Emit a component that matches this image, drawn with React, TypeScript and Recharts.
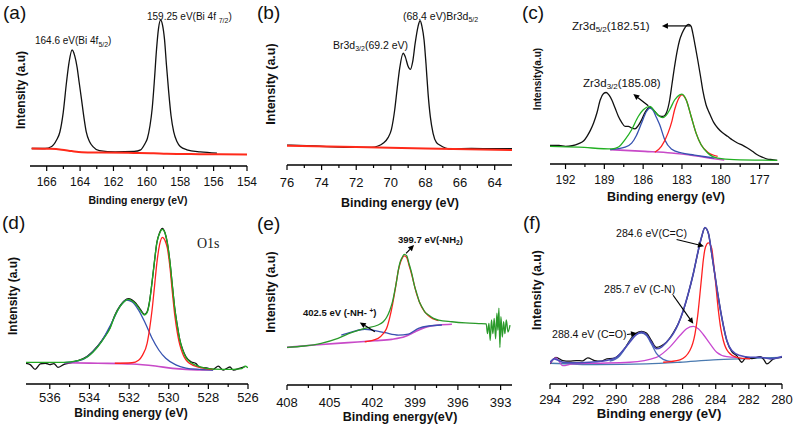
import React from "react";
import { LineChart, Line, XAxis, YAxis, ReferenceLine } from "recharts";

type Pt = [number, number];

// ---------- (a) Bi 4f ----------
const aMajor = [154, 156, 158, 160, 162, 164, 166];
const aMinor = [155, 157, 159, 161, 163, 165];
const aBlack: Pt[] = [
  [166.9, 10.8], [166.1, 10.8], [165.7, 12], [165.41, 16], [165.21, 21], [165.01, 33], [164.81, 52],
  [164.66, 64], [164.48, 71.6], [164.32, 68], [164.18, 61], [164.06, 52], [163.92, 41.6], [163.77, 30],
  [163.63, 21], [163.43, 15], [163.23, 12], [162.84, 9.5], [161.9, 8.7], [160.76, 9], [160.37, 10],
  [160.13, 13.5], [159.97, 17], [159.81, 25], [159.68, 35.5], [159.54, 54], [159.42, 72], [159.3, 85],
  [159.18, 90], [159.06, 87], [158.94, 78], [158.83, 63], [158.69, 45.6], [158.55, 31], [158.39, 21],
  [158.19, 15], [158.0, 12], [157.6, 10], [156.8, 8.7], [155.8, 8],
];
const aRed: Pt[] = [
  [166.9, 10.8], [165.8, 10.6], [165.1, 10.1], [164.5, 9.2], [163.9, 8.5], [162.7, 8.3], [160.8, 8.1],
  [159.6, 7.9], [158.8, 7.5], [156.8, 7.3], [154, 7.1],
];

// ---------- (b) Br 3d ----------
const bMajor = [64, 66, 68, 70, 72, 74, 76];
const bMinor = [65, 67, 69, 71, 73, 75];
const bBlack: Pt[] = [
  [76, 12.4], [74.4, 11.8], [72.47, 11], [71.13, 11], [70.74, 11.8], [70.45, 13.5], [70.16, 17],
  [69.97, 22], [69.78, 34], [69.64, 47], [69.49, 60], [69.29, 69.4], [69.16, 67], [69.01, 61.5],
  [68.87, 59.4], [68.74, 64], [68.59, 76], [68.43, 86], [68.31, 89.6], [68.2, 86], [68.08, 77.6],
  [67.97, 63], [67.85, 44.5], [67.72, 30], [67.56, 19.7], [67.37, 14], [67.18, 12.4], [66.5, 9.9],
  [65.35, 10.3], [64, 10.1], [63, 10.1],
];
const bRed: Pt[] = [[76, 12], [72, 11.2], [68, 10.2], [63, 9.3]];

// ---------- (c) Zr 3d ----------
const cMajor = [177, 180, 183, 186, 189, 192];
const cMinor = [178.5, 181.5, 184.5, 187.5, 190.5];
const cBlack: Pt[] = [
  [193.23, 11.6], [192.51, 11.6], [192.0, 11], [191.49, 11.4], [190.98, 12.7], [190.59, 14.5],
  [190.34, 17.3], [190.08, 21], [189.83, 25.6], [189.57, 32], [189.32, 40], [189.06, 44], [188.86, 44.7],
  [188.63, 43], [188.42, 40], [188.17, 35], [187.91, 29.7], [187.66, 26], [187.4, 23.5], [187.14, 23.5],
  [186.89, 22.5], [186.63, 22], [186.38, 24], [186.12, 27.6], [185.87, 32], [185.66, 34.5], [185.48, 35.5],
  [185.3, 34.5], [185.1, 32.8], [184.84, 30.5], [184.59, 29.7], [184.38, 30], [184.21, 31.8], [183.95, 40],
  [183.77, 50], [183.57, 61], [183.36, 71], [183.18, 77.5], [183.0, 81.5], [182.8, 84.8], [182.49, 87.3],
  [182.29, 86], [182.16, 81.7], [181.98, 74], [181.78, 65], [181.57, 55], [181.39, 46], [181.14, 37],
  [180.88, 31.8], [180.55, 26], [180.24, 22.5], [179.86, 19.5], [179.48, 17.3], [179.09, 15], [178.71, 13.1],
  [178.33, 11.8], [177.94, 10], [177.56, 8], [177.18, 5.8], [176.79, 4.3], [176.41, 3.1], [176.03, 2.7],
  [175.64, 2.3],
];
const cGreen: Pt[] = [
  [193.23, 11], [190.98, 10.5], [188.42, 9.4], [187.91, 10.6], [187.4, 15.2], [186.89, 21.4], [186.38, 29.7],
  [185.99, 33.9], [185.48, 36], [185.1, 32.8], [184.72, 29.7], [184.46, 29], [184.21, 30.5], [183.95, 33.9],
  [183.57, 40], [183.18, 43.2], [183.0, 43.7], [182.67, 40], [182.29, 29.7], [181.91, 19.3], [181.52, 12],
  [181.01, 6.9], [180.24, 3.7], [178.97, 2.7], [175.64, 2.3],
];
const cBlue: Pt[] = [
  [188.55, 9], [187.4, 10.5], [186.89, 13], [186.51, 18], [186.12, 25.6], [185.74, 32.8], [185.48, 35],
  [185.23, 33.5], [184.97, 29], [184.72, 24.5], [184.33, 15.2], [183.82, 9.4], [183.06, 6.9], [182.03, 5.6],
  [180.5, 3.7],
];
const cRed: Pt[] = [
  [185.1, 7.3], [184.59, 11], [184.08, 19.3], [183.77, 27], [183.57, 33.9], [183.31, 40], [183.0, 43.2],
  [182.67, 40], [182.29, 29.7], [181.91, 19.3], [181.52, 12], [181.01, 7.3], [180.24, 4.8],
];
const cBase: Pt[] = [[188.55, 9], [185.87, 7.9], [183.82, 6.9], [182.03, 5.2], [180.5, 3.3], [179.73, 2.5]];

// ---------- (d) O 1s ----------
const dMajor = [526, 528, 530, 532, 534, 536];
const dMinor = [527, 529, 531, 533, 535];
const dBlack: Pt[] = [
  [537.25, 12.2], [536.99, 11.4], [536.74, 8.6], [536.48, 11.8], [536.22, 12.2], [536.0, 11.4],
  [535.79, 12], [535.59, 9.8], [535.28, 11.6], [534.94, 12.5], [534.6, 13.7], [534.09, 16.5],
  [533.57, 22.5], [533.23, 28], [532.97, 33], [532.72, 40.5], [532.46, 46], [532.24, 49], [532.03, 50.2],
  [531.86, 49.5], [531.66, 47.5], [531.44, 44], [531.23, 41], [531.09, 42.5], [530.97, 48.5], [530.84, 60],
  [530.72, 72], [530.6, 83], [530.46, 89], [530.32, 91.5], [530.19, 89], [530.07, 83], [529.95, 73],
  [529.81, 57], [529.69, 44], [529.56, 34], [529.44, 26], [529.3, 20.5], [529.13, 16], [528.87, 13],
  [528.62, 12], [528.44, 9.8], [528.1, 9.5], [527.76, 8.6], [527.5, 10.5], [527.25, 8.2], [526.91, 10],
  [526.74, 8.2], [526.39, 9.4], [526.14, 10.2],
];
const dGreen: Pt[] = [
  [537.42, 12.7], [536.14, 12.7], [535.28, 12.7], [534.6, 13.7], [534.09, 16], [533.57, 22], [533.23, 27.5],
  [532.97, 32.5], [532.72, 40], [532.46, 45.5], [532.24, 48.5], [532.03, 49.8], [531.86, 49], [531.66, 47],
  [531.44, 43.5], [531.23, 40.6], [531.09, 42], [530.97, 48], [530.84, 60], [530.72, 72], [530.6, 83],
  [530.46, 88.6], [530.32, 91], [530.19, 89], [530.07, 83], [529.95, 73], [529.81, 57.3], [529.69, 44],
  [529.56, 33.7], [529.44, 26], [529.3, 20], [529.13, 15.5], [528.87, 12.5], [528.44, 10.2], [527.76, 8.8],
  [526.74, 8.6], [526.31, 9], [526.14, 10.5], [526.0, 9.5],
];
const dBlue: Pt[] = [
  [535.28, 12.5], [534.43, 14], [533.91, 18], [533.4, 24.9], [532.89, 35.7], [532.46, 45.5], [532.12, 49.4],
  [531.86, 48.4], [531.52, 43.5], [531.18, 35.7], [530.84, 26.9], [530.5, 20], [530.15, 15.1], [529.64, 11.2],
  [529.13, 9.4], [528.44, 8.6], [527.76, 8.2],
];
const dRed: Pt[] = [
  [532.72, 12.2], [531.86, 12.5], [531.52, 14], [531.32, 17], [531.09, 23.9], [530.97, 32], [530.84, 43.5],
  [530.72, 57], [530.6, 71], [530.46, 82], [530.32, 86.3], [530.19, 84.5], [530.07, 80], [529.95, 70],
  [529.81, 53.3], [529.69, 40], [529.56, 29.8], [529.44, 23], [529.3, 18], [528.96, 12.2], [528.44, 9.8],
  [527.76, 8.6],
];
const dBase: Pt[] = [
  [535.28, 12.5], [533.57, 12.2], [531.86, 11.8], [530.67, 10.6], [529.81, 9.2], [529.13, 8.6], [527.76, 8.2],
];

// ---------- (e) N 1s ----------
const eMajor = [393, 396, 399, 402, 405, 408];
const eMinor = [394.5, 397.5, 400.5, 403.5, 406.5];
const eGreen: Pt[] = [
  [408, 22], [406.78, 22.8], [405.6, 24.4], [404.42, 27.3], [403.48, 30.6], [402.54, 33.1], [401.6, 35.1],
  [401.24, 37], [401.01, 39.5], [400.77, 43.9], [400.58, 49], [400.42, 55.6], [400.3, 61], [400.18, 67.3],
  [400.07, 71.5], [399.92, 74.5], [399.76, 76.4], [399.59, 75.5], [399.43, 71], [399.24, 65.3], [399.05, 58],
  [398.89, 53.6], [398.72, 49], [398.53, 45.8], [398.3, 42.5], [398.06, 40.9], [397.71, 39], [397.36, 38],
  [396.42, 37], [395.47, 36.3], [394.53, 35.9], [394.01, 35.7], [393.92, 30], [393.82, 36], [393.73, 26],
  [393.64, 38], [393.54, 30], [393.45, 39], [393.35, 27], [393.26, 42], [393.19, 32], [393.12, 45],
  [393.05, 22], [392.98, 40], [392.88, 28], [392.79, 37], [392.7, 30], [392.6, 38], [392.48, 31], [392.34, 35],
];
const eRed: Pt[] = [
  [402.54, 25.3], [401.6, 27.3], [401.24, 30], [401.01, 33], [400.77, 40], [400.58, 47.5], [400.42, 55],
  [400.18, 67], [399.92, 74], [399.76, 75.5], [399.59, 74.5], [399.43, 70], [399.24, 64.5], [398.89, 53],
  [398.53, 45.3], [398.06, 40.5], [397.36, 37.6],
];
const eBlue: Pt[] = [
  [404.19, 29.2], [403.48, 30.9], [402.54, 32.6], [401.83, 31.8], [401.12, 30.6], [400.18, 29.2],
  [399.48, 29.8], [398.77, 33.1], [398.06, 34.5], [397.12, 35.1],
];
const eBase: Pt[] = [
  [408, 22], [406.07, 23.4], [403.71, 24.8], [401.83, 25.9], [400.65, 26.7], [399.71, 28.3], [399.0, 31.2],
  [398.3, 33.7], [397.36, 35.1], [396.42, 35.5],
];

// ---------- (f) C 1s ----------
const fMajor = [280, 282, 284, 286, 288, 290, 292, 294];
const fMinor = [281, 283, 285, 287, 289, 291, 293];
const fBlack: Pt[] = [
  [294, 11.8], [293.64, 15.7], [293.23, 13.8], [292.83, 13.4], [292.42, 13.8], [292.02, 13.6], [291.72, 15.4],
  [291.31, 13.8], [290.91, 13.4], [290.57, 14.8], [290.2, 15], [289.8, 17.3], [289.39, 22.4], [289.09, 27],
  [288.79, 30], [288.48, 31], [288.18, 30], [287.88, 25.5], [287.58, 21.5], [287.27, 22.5], [286.97, 24.6],
  [286.57, 30], [286.26, 35.4], [285.96, 43], [285.66, 53], [285.35, 65], [285.05, 78.5], [284.85, 86.5],
  [284.65, 92], [284.44, 88.5], [284.24, 76.5], [283.94, 57], [283.64, 39.5], [283.33, 25.5], [283.03, 19],
  [282.73, 16.7], [282.42, 12.8], [282.16, 15.7], [281.82, 15], [281.31, 16.1], [281.11, 14.5], [280.91, 11.8],
  [280.51, 14.8], [280, 15.7],
];
const fEnv: Pt[] = [
  [294, 12.8], [293.74, 14.8], [293.23, 12.8], [292.63, 12.4], [291.62, 12.8], [290.61, 13.8], [290.0, 15.7],
  [289.6, 19.7], [289.19, 24.6], [288.79, 29.1], [288.48, 30.5], [288.18, 29.1], [287.88, 24.6], [287.58, 20.7],
  [287.27, 21.7], [286.97, 24.6], [286.57, 29.5], [286.26, 35.4], [285.96, 43.3], [285.66, 53.1], [285.35, 65],
  [285.05, 78.7], [284.85, 86.6], [284.65, 92.1], [284.44, 88.6], [284.24, 76.8], [283.94, 57], [283.64, 39.4],
  [283.33, 25.6], [283.03, 19.7], [282.53, 16.7], [281.92, 15.7], [281.31, 15.7], [280.71, 14.8], [280, 16.1],
];
const fRed: Pt[] = [
  [287.17, 12.8], [286.16, 14.2], [285.56, 19.7], [285.25, 29.5], [285.09, 40], [284.95, 53.1], [284.85, 63],
  [284.75, 72.8], [284.61, 80.7], [284.44, 83], [284.24, 79.7], [284.14, 72], [284.04, 63], [283.84, 43.3],
  [283.7, 33], [283.54, 25.6], [283.23, 18.7], [282.73, 15.7], [281.92, 14.8],
];
const fMagenta: Pt[] = [
  [294, 12.2], [293.64, 15.4], [293.23, 10.8], [292.63, 11.8], [291.21, 12.2], [289.19, 12.8], [287.58, 15.7],
  [286.77, 21.7], [286.16, 28.5], [285.76, 32.5], [285.35, 33.9], [285.05, 32.5], [284.75, 29.1], [284.34, 23.6],
  [283.94, 18.7], [283.33, 16.1], [282.73, 15.7],
];
const fCO: Pt[] = [
  [290.4, 13.4], [289.8, 16.5], [289.39, 22], [289.09, 26.5], [288.79, 29.1], [288.48, 30], [288.18, 28.5],
  [287.88, 23.5], [287.58, 18], [287.17, 14.5], [286.57, 13],
];
const fBase: Pt[] = [[294, 12.2], [291.21, 11.4], [288.18, 11.8], [286.16, 12.8], [284.14, 14.2], [282.12, 15], [280, 15.7]];

// ---------- layout ----------
const PAD = 3;
const PADX = 16;
const XH = 32;
const AX = "#000";

type Series = { pts: Pt[]; color: string; w?: number };
type PanelCfg = {
  x0: number; x1: number; y0: number; y1: number;
  domain: [number, number];
  major: number[]; minor: number[];
  tickFs: number; tickDy: number;
  series: Series[];
  arrows: [number, number, number, number][];
};

const ArrowShape = (props: any) => {
  const { x1, y1, x2, y2 } = props;
  const a = Math.atan2(y2 - y1, x2 - x1);
  const L = 6, W = 2.8;
  const bx = x2 - L * Math.cos(a), by = y2 - L * Math.sin(a);
  const pts = `${x2},${y2} ${bx + W * Math.sin(a)},${by - W * Math.cos(a)} ${bx - W * Math.sin(a)},${by + W * Math.cos(a)}`;
  return (
    <g>
      <line x1={x1} y1={y1} x2={bx} y2={by} stroke="#000" strokeWidth={1.2} />
      <polygon points={pts} fill="#000" />
    </g>
  );
};

const panels: PanelCfg[] = [
  {
    x0: 30, x1: 247, y0: 4, y1: 166, domain: [154, 167], major: aMajor, minor: aMinor, tickFs: 12, tickDy: 20,
    series: [{ pts: aBlack, color: "#111" }, { pts: aRed, color: "#ff2a1a", w: 2 }],
    arrows: [],
  },
  {
    x0: 287, x1: 512, y0: 4, y1: 165, domain: [63, 76], major: bMajor, minor: bMinor, tickFs: 13, tickDy: 21.5,
    series: [{ pts: bBlack, color: "#111" }, { pts: bRed, color: "#ff2a1a", w: 2 }],
    arrows: [],
  },
  {
    x0: 550, x1: 779, y0: 4, y1: 164, domain: [175.5, 193.2], major: cMajor, minor: cMinor, tickFs: 12, tickDy: 20,
    series: [
      { pts: cBlack, color: "#111" }, { pts: cBase, color: "#c84ac8", w: 1.6 }, { pts: cBlue, color: "#3652b0" },
      { pts: cRed, color: "#ff2020" }, { pts: cGreen, color: "#22b022" },
    ],
    arrows: [[182.35, 86.3, 184.55, 86.3], [185.6, 36.4, 186.76, 43.7]],
  },
  {
    x0: 26, x1: 248, y0: 214, y1: 384, domain: [526, 537.2], major: dMajor, minor: dMinor, tickFs: 13, tickDy: 18,
    series: [
      { pts: dBlack, color: "#111" }, { pts: dBase, color: "#c84ac8", w: 1.6 }, { pts: dBlue, color: "#3652b0" },
      { pts: dRed, color: "#ff2020" }, { pts: dGreen, color: "#22a822" },
    ],
    arrows: [],
  },
  {
    x0: 287, x1: 512, y0: 214, y1: 385, domain: [392.2, 408], major: eMajor, minor: eMinor, tickFs: 13, tickDy: 21.5,
    series: [
      { pts: eBase, color: "#c84ac8", w: 1.6 }, { pts: eBlue, color: "#3a4fb0" }, { pts: eRed, color: "#ff2020" },
      { pts: eGreen, color: "#2a9a2a" },
    ],
    arrows: [[399.64, 77, 399.08, 81.9], [401.83, 31.2, 402.89, 36.6]],
  },
  {
    x0: 550, x1: 782, y0: 214, y1: 384, domain: [280, 294], major: fMajor, minor: fMinor, tickFs: 13, tickDy: 19.5,
    series: [
      { pts: fBase, color: "#4a7ab0" }, { pts: fBlack, color: "#111" }, { pts: fMagenta, color: "#c848d0" },
      { pts: fCO, color: "#4a6ab8" }, { pts: fRed, color: "#ff2020" }, { pts: fEnv, color: "#4b4bb8", w: 1.6 },
    ],
    arrows: [[286.36, 85, 284.71, 81.1], [286.57, 52.2, 285.35, 35.4], [289.35, 29.1, 288.75, 29.9]],
  },
];

const makeTick = (p: PanelCfg) => (props: any) => {
  const { x, y, payload } = props;
  const isMajor = p.major.some((m) => Math.abs(m - payload.value) < 1e-6);
  return (
    <g>
      <line x1={x} x2={x} y1={y} y2={y + (isMajor ? 5 : 3)} stroke={AX} strokeWidth={1.2} />
      {isMajor && (
        <text x={x} y={y + p.tickDy} textAnchor="middle" fontSize={p.tickFs} fill="#111"
          fontFamily="'Liberation Sans', Arial, sans-serif">
          {payload.value}
        </text>
      )}
    </g>
  );
};

function Panel({ p }: { p: PanelCfg }) {
  const w = p.x1 - p.x0 + 2 * PADX;
  const h = p.y1 - p.y0 + PAD + XH;
  const ticks = [...p.major, ...p.minor].sort((a, b) => a - b);
  const axisLine = { stroke: AX, strokeWidth: 1.3 };
  return (
    <div style={{ position: "absolute", left: p.x0 - PADX, top: p.y0 - PAD }}>
      <LineChart width={w} height={h} margin={{ top: PAD, right: PADX, left: PADX, bottom: 0 }}>
        <XAxis dataKey="e" type="number" domain={p.domain} reversed allowDataOverflow ticks={ticks} interval={0}
          tickLine={false} tickSize={0} tickMargin={0} height={XH} axisLine={axisLine} tick={makeTick(p)} />
        <XAxis xAxisId="top" orientation="top" dataKey="e" type="number" domain={p.domain} reversed allowDataOverflow
          tick={false} tickLine={false} height={0} axisLine={axisLine} />
        <YAxis type="number" domain={[0, 100]} allowDataOverflow width={0} tick={false} tickLine={false} axisLine={axisLine} />
        <YAxis yAxisId="r" orientation="right" type="number" domain={[0, 100]} width={0} tick={false} tickLine={false}
          axisLine={axisLine} />
        {p.series.map((s, i) => (
          <Line key={i} data={s.pts.map(([e, v]) => ({ e, v }))} dataKey="v" type="monotone" stroke={s.color}
            strokeWidth={s.w ?? 1.3} dot={false} activeDot={false} isAnimationActive={false} />
        ))}
        {p.arrows.map((a, i) => (
          <ReferenceLine key={`ar${i}`} segment={[{ x: a[0], y: a[1] }, { x: a[2], y: a[3] }]} shape={ArrowShape}
            ifOverflow="visible" />
        ))}
      </LineChart>
    </div>
  );
}

const SANS = "'Liberation Sans', Arial, sans-serif";

function Overlay() {
  const letters: [string, number, number][] = [
    ["(a)", 3, 19], ["(b)", 257, 19], ["(c)", 522, 19], ["(d)", 2, 229], ["(e)", 257, 230], ["(f)", 523, 229],
  ];
  const titles: [string, number, number, number][] = [
    ["Binding energy (eV)", 138, 204, 10.5], ["Binding energy (eV)", 400, 207, 12.5],
    ["Binding energy (eV)", 666, 201, 12.5], ["Binding energy (eV)", 131, 416.5, 12],
    ["Binding energy(eV)", 400, 421, 12.5], ["Binding energy (eV)", 659, 418, 13.2],
  ];
  const ylabels: [string, number, number, number][] = [
    ["Intensity (a.u)", 21, 90, 12], ["Intensity (a.u)", 271, 84, 12.5], ["Intensity(a.u)", 537, 79, 10],
    ["Intensity (a.u)", 13, 296, 12], ["Intensity (a.u)", 271, 292, 12.5], ["Intensity (a.u)", 537, 290, 12.3],
  ];
  return (
    <svg width={794} height={426} style={{ position: "absolute", left: 0, top: 0, pointerEvents: "none" }}>
      {letters.map(([t, x, y]) => (
        <text key={t} x={x} y={y} fontSize={19} fontFamily={SANS} fill="#111">{t}</text>
      ))}
      {titles.map(([t, x, y, fs], i) => (
        <text key={`t${i}`} x={x} y={y} fontSize={fs} fontWeight="bold" textAnchor="middle" fontFamily={SANS} fill="#111">{t}</text>
      ))}
      {ylabels.map(([t, x, y, fs], i) => (
        <text key={`y${i}`} x={x} y={y} fontSize={fs} fontWeight="bold" textAnchor="middle" dominantBaseline="central"
          transform={`rotate(-90 ${x} ${y})`} fontFamily={SANS} fill="#111">{t}</text>
      ))}
      <g fontFamily={SANS} fill="#111">
        <text x={35} y={44} fontSize={10}>164.6 eV(Bi 4f<tspan fontSize={7} dy={2.5}>5/2</tspan><tspan dy={-2.5}>)</tspan></text>
        <text x={147} y={20} fontSize={10}>159.25 eV(Bi 4f <tspan fontSize={7} dy={2.5}>7/2</tspan><tspan dy={-2.5}>)</tspan></text>
        <text x={403} y={19.5} fontSize={10.5}>(68.4 eV)Br3d<tspan fontSize={7} dy={2.5}>5/2</tspan></text>
        <text x={333} y={48.5} fontSize={10.5}>Br3d<tspan fontSize={7} dy={2.5}>3/2</tspan><tspan dy={-2.5}>(69.2 eV)</tspan></text>
        <text x={572} y={29.5} fontSize={11.5}>Zr3d<tspan fontSize={8} dy={2.5}>5/2</tspan><tspan dy={-2.5}>(182.51)</tspan></text>
        <text x={583} y={86.5} fontSize={11.5}>Zr3d<tspan fontSize={8} dy={2.5}>3/2</tspan><tspan dy={-2.5}>(185.08)</tspan></text>
        <text x={197} y={248} fontSize={14} fontFamily="'Liberation Serif', 'Times New Roman', serif" fill="#222">O1s</text>
        <text x={398} y={243} fontSize={9.5} fontWeight="bold">399.7 eV(-NH<tspan fontSize={6.5} dy={2}>2</tspan><tspan dy={-2}>)</tspan></text>
        <text x={303} y={316} fontSize={9.5} fontWeight="bold">402.5 eV (-NH- <tspan fontSize={6.5} dy={-3.5}>+</tspan><tspan dy={3.5}>)</tspan></text>
        <text x={616} y={236.5} fontSize={10.6}>284.6 eV(C=C)</text>
        <text x={604} y={292.5} fontSize={10.6}>285.7 eV (C-N)</text>
        <text x={552} y={338} fontSize={10.6}>288.4 eV (C=O)</text>
      </g>
    </svg>
  );
}

export default function App() {
  return (
    <div style={{ position: "absolute", left: 0, top: 0, width: 794, height: 426, background: "#fff" }}>
      {panels.map((p, i) => (
        <Panel key={i} p={p} />
      ))}
      <Overlay />
    </div>
  );
}
